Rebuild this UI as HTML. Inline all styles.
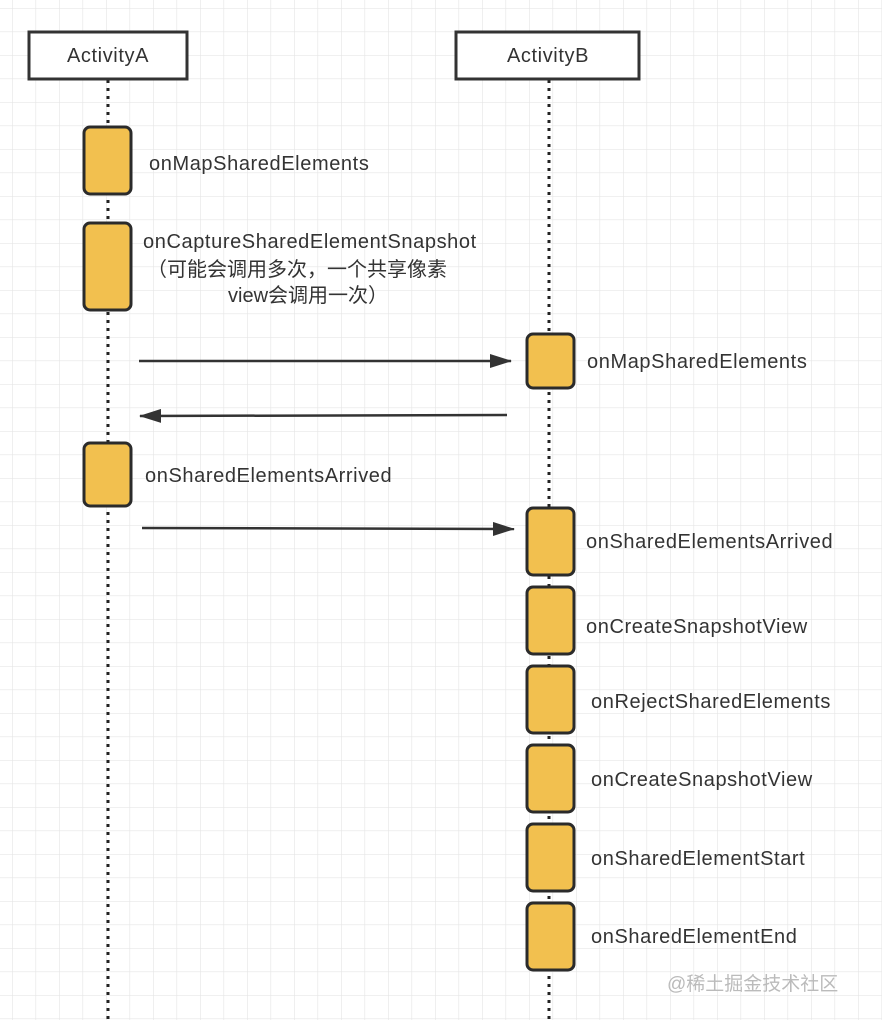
<!DOCTYPE html>
<html><head><meta charset="utf-8"><style>
body{margin:0;width:882px;height:1020px;overflow:hidden;background:#fff;font-family:"Liberation Sans","Noto Sans CJK SC",sans-serif}
</style></head><body>
<svg width="882" height="1020" xmlns="http://www.w3.org/2000/svg">
<defs>
<pattern id="g" x="12" y="8" width="23.5" height="23.5" patternUnits="userSpaceOnUse">
<path d="M0 0H23.5M0 0V23.5" stroke="#e6e6e6" stroke-width="1.3" fill="none"/>
</pattern>
<marker id="ar" markerWidth="22" markerHeight="14" refX="21" refY="7" orient="auto" markerUnits="userSpaceOnUse">
<path d="M0 0L22 7L0 14z" fill="#333"/>
</marker>
</defs>
<rect width="882" height="1020" fill="url(#g)"/>
<g stroke="#222" stroke-width="3" stroke-dasharray="3,5">
<line x1="108" y1="80" x2="108" y2="1020"/>
<line x1="549" y1="80" x2="549" y2="1020"/>
</g>
<g fill="#fff" stroke="#333" stroke-width="3">
<rect x="29" y="32" width="158" height="47"/>
<rect x="456" y="32" width="183" height="47"/>
</g>
<g font-size="20" letter-spacing="0.6" fill="#333" text-anchor="middle">
<text x="108" y="62">ActivityA</text>
<text x="548" y="62">ActivityB</text>
</g>
<g fill="#f2c04f" stroke="#2b2b2b" stroke-width="3">
<rect x="84" y="127" width="47" height="67" rx="6"/>
<rect x="84" y="223" width="47" height="87" rx="6"/>
<rect x="84" y="443" width="47" height="63" rx="6"/>
<rect x="527" y="334" width="47" height="54" rx="6"/>
<rect x="527" y="508" width="47" height="67" rx="6"/>
<rect x="527" y="587" width="47" height="67" rx="6"/>
<rect x="527" y="666" width="47" height="67" rx="6"/>
<rect x="527" y="745" width="47" height="67" rx="6"/>
<rect x="527" y="824" width="47" height="67" rx="6"/>
<rect x="527" y="903" width="47" height="67" rx="6"/>
</g>
<g stroke="#333" stroke-width="2.5" marker-end="url(#ar)">
<line x1="139" y1="361" x2="511" y2="361"/>
<line x1="507" y1="415" x2="140" y2="416"/>
<line x1="142" y1="528" x2="514" y2="529"/>
</g>
<g font-size="20" letter-spacing="0.6" fill="#333">
<text x="149" y="170">onMapSharedElements</text>
<text x="143" y="248">onCaptureSharedElementSnapshot</text>
<text x="147" y="276" letter-spacing="0">（可能会调用多次，一个共享像素</text>
<text x="228" y="302" letter-spacing="0">view会调用一次）</text>
<text x="587" y="368">onMapSharedElements</text>
<text x="145" y="482">onSharedElementsArrived</text>
<text x="586" y="548">onSharedElementsArrived</text>
<text x="586" y="633">onCreateSnapshotView</text>
<text x="591" y="708">onRejectSharedElements</text>
<text x="591" y="786">onCreateSnapshotView</text>
<text x="591" y="865">onSharedElementStart</text>
<text x="591" y="943">onSharedElementEnd</text>
</g>
<text x="667" y="990" font-size="19" fill="#bbb">@稀土掘金技术社区</text>
</svg>
</body></html>
